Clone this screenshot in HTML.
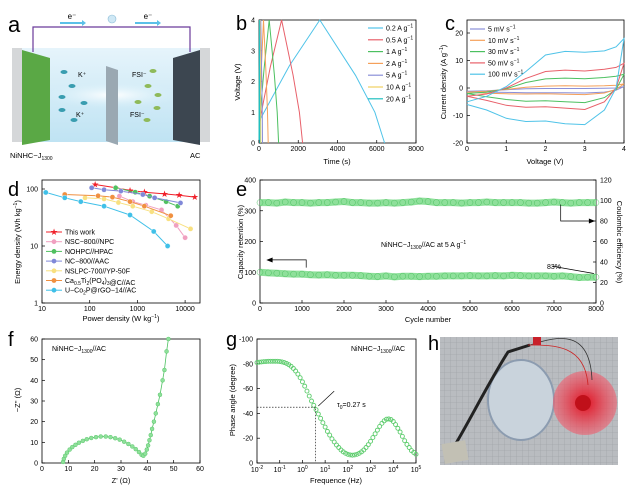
<!DOCTYPE html>
<html><head><meta charset="utf-8"><style>
html,body{margin:0;padding:0;background:#fff;}
svg{display:block;font-family:"Liberation Sans",sans-serif;}
</style></head><body>
<svg id="fig" width="627" height="489" viewBox="0 0 627 489" xmlns="http://www.w3.org/2000/svg">
<defs>
<linearGradient id="cellg" x1="0" y1="0" x2="0" y2="1"><stop offset="0" stop-color="#e6f4fb"/><stop offset="1" stop-color="#bfe3f3"/></linearGradient>
<radialGradient id="glow" cx="0.5" cy="0.5" r="0.5"><stop offset="0" stop-color="#ffffff"/><stop offset="1" stop-color="#d4eef9" stop-opacity="0"/></radialGradient>
<pattern id="grid" width="6" height="6" patternUnits="userSpaceOnUse"><rect width="6" height="6" fill="#b9bcc0"/><path d="M0 0H6M0 0V6" stroke="#9a9ea3" stroke-width="0.6"/></pattern>
<radialGradient id="fan" cx="0.5" cy="0.5" r="0.5"><stop offset="0" stop-color="#e01020"/><stop offset="1" stop-color="#f06070" stop-opacity="0.6"/></radialGradient>
</defs>
<!-- panel a -->
<g>
<rect x="12" y="48" width="198" height="94" fill="url(#cellg)"/>
<ellipse cx="112" cy="95" rx="70" ry="14" fill="url(#glow)"/>
<rect x="12" y="48" width="10" height="94" fill="#d5d7d9"/>
<rect x="200" y="48" width="10" height="94" fill="#d5d7d9"/>
<polygon points="22,50 50,58 50,140 22,145" fill="#5aa845"/>
<polygon points="173,58 200,50 200,145 173,140" fill="#3c4650"/>
<polygon points="106,66 118,70 118,145 106,141" fill="#9aa8b2"/>
<polyline points="33,52 33,27 190,27 190,52" fill="none" stroke="#6a3a9a" stroke-width="1.2"/>
<circle cx="112" cy="19" r="4" fill="#cfe8f5" stroke="#8bbbd6" stroke-width="0.6"/>
<rect x="60" y="22" width="22" height="2" fill="#5bc0e8"/><polygon points="82,20 86,23 82,26" fill="#5bc0e8"/>
<rect x="135" y="22" width="22" height="2" fill="#5bc0e8"/><polygon points="157,20 161,23 157,26" fill="#5bc0e8"/>
<text x="72" y="19" font-size="8" text-anchor="middle">e⁻</text>
<text x="148" y="19" font-size="8" text-anchor="middle">e⁻</text>
<text x="78" y="77" font-size="7">K⁺</text>
<text x="76" y="117" font-size="7">K⁺</text>
<text x="132" y="77" font-size="7">FSI⁻</text>
<text x="130" y="117" font-size="7">FSI⁻</text>
<g fill="#3a9db0"><ellipse cx="64" cy="72" rx="3.5" ry="2"/><ellipse cx="72" cy="86" rx="3.5" ry="2"/><ellipse cx="62" cy="97" rx="3.5" ry="2"/><ellipse cx="84" cy="103" rx="3.5" ry="2"/><ellipse cx="62" cy="110" rx="3.5" ry="2"/><ellipse cx="74" cy="120" rx="3.5" ry="2"/></g>
<g fill="#8fba5a"><ellipse cx="153" cy="71" rx="3.5" ry="2"/><ellipse cx="148" cy="86" rx="3.5" ry="2"/><ellipse cx="158" cy="95" rx="3.5" ry="2"/><ellipse cx="138" cy="102" rx="3.5" ry="2"/><ellipse cx="157" cy="108" rx="3.5" ry="2"/><ellipse cx="147" cy="120" rx="3.5" ry="2"/></g>
<text x="10" y="158" font-size="7.5">NiNHC−J<tspan font-size="5" dy="2">1300</tspan></text>
<text x="190" y="158" font-size="7.5">AC</text>
</g>
<!-- panel h photo -->
<g>
<rect x="440" y="337" width="178" height="128" fill="url(#grid)"/>
<ellipse cx="521" cy="400" rx="33" ry="40" fill="#c9d3dc" stroke="#8c9cb0" stroke-width="2"/>
<circle cx="585" cy="403" r="32" fill="url(#fan)"/>
<circle cx="583" cy="403" r="8" fill="#c0101a"/>
<path d="M455 445 C470 420 490 380 508 352 L530 345" fill="none" stroke="#222" stroke-width="3"/>
<path d="M530 345 C560 335 590 330 592 380" fill="none" stroke="#333" stroke-width="0.8"/>
<path d="M528 345 C555 345 585 345 588 385" fill="none" stroke="#c22" stroke-width="0.8"/>
<rect x="533" y="337" width="8" height="8" fill="#c8202a"/>
<rect x="443" y="442" width="24" height="20" fill="#c2c0b4" transform="rotate(-10 455 452)"/>
</g>
<g id="charts"></g>
</svg>
<script>
// ---------- data ----------
const gcdRates = ['0.2 A g⁻¹','0.5 A g⁻¹','1  A g⁻¹','2  A g⁻¹','5  A g⁻¹','10 A g⁻¹','20 A g⁻¹'];
const gcdColors = ['#4fc3e8','#e8606a','#4cc060','#f5a05a','#8a8fd8','#f0d060','#20c0c0'];
const gcdChargeEnd = [3100,1150,520,230,90,45,20];
const gcdDischargeEnd = [6400,2220,1000,470,180,90,40];
const gcdStartV = [0.7,0.6,0.5,0.4,0.3,0.2,0.1];

const cvLabels = ['5 mV s⁻¹','10 mV s⁻¹','30 mV s⁻¹','50 mV s⁻¹','100 mV s⁻¹'];
const cvColors = ['#8a8fd8','#f5a05a','#4cc060','#e8606a','#4fc3e8'];
const cvV = [0,0.5,1,1.5,2,2.5,3,3.5,3.8,4];
const cvUpper = [
 [-1.2,-1,-0.6,-0.3,-0.2,-0.2,-0.2,-0.1,0,0.5],
 [-1.5,-1.2,-0.5,0.3,0.7,0.8,0.7,0.8,1,1.5],
 [-2,-1.5,-0.3,2,3.3,3.6,3.4,3.8,4.3,5],
 [-3,-2.2,0,3.5,6,6.5,6.2,6.8,7.5,9],
 [-5,-3,0.5,6,12,13.3,13,13.5,15,18]];
const cvLower = [
 [-1.2,-1.5,-1.6,-1.7,-1.7,-1.7,-1.8,-1.5,-0.8,0.5],
 [-1.5,-1.9,-2.1,-2.2,-2.1,-2.3,-2.4,-1.8,-0.5,1.5],
 [-2,-3.2,-4.2,-4.8,-4.6,-5,-5.3,-3.5,-0.5,5],
 [-3,-4.5,-6.3,-7,-6.8,-7.3,-7.8,-5,0,9],
 [-6,-8,-11,-12.2,-12,-13,-13.3,-8,0,18]];

const ragNames = ['This work','NSC−800//NPC','NOHPC//HPAC','NC−800//AAC','NSLPC-700//YP-50F','Ca0.5Ti2(PO4)3@C//AC','U−Co2P@rGO−14//AC'];
const ragColors = ['#f0202a','#f0a0c0','#50c060','#8088d8','#f8e080','#f09040','#40c0e8'];
const ragPower = [
 [130,350,700,1400,3700,7500,16000],
 [420,800,1500,3200,6500,10000],
 [350,900,1800,4000,7000],
 [110,200,450,1300,2300,8000],
 [80,200,400,800,2000,4500,13000],
 [30,150,300,700,1400,5000],
 [12,30,65,200,700,2200,4300]];
const ragEnergy = [
 [120,105,95,88,82,78,72],
 [75,60,52,43,23,14],
 [105,88,75,60,50],
 [105,97,92,80,70,57],
 [70,67,58,50,40,30,20],
 [80,76,72,60,50,34],
 [87,70,60,50,35,18,10]];

const cycNum = [0,200,400,600,800,1000,1200,1400,1600,1800,2000,2200,2400,2600,2800,3000,3200,3400,3600,3800,4000,4200,4400,4600,4800,5000,5200,5400,5600,5800,6000,6200,6400,6600,6800,7000,7200,7400,7600,7800,8000];
const capRet = [100,98,97,95,94,94,92,91,92,90,90,90,89,87,86,88,85,87,87,86,87,87,88,88,88,89,88,88,89,88,90,89,88,88,88,87,88,86,83,84,84];
const coulEff = [98,98,97.5,98.5,98,98,97.5,98,98,98.5,99,98,98,97.5,97.5,98,97.5,98,98.5,99.5,99,98,98,98,97.5,98,98,98.5,98,98,98,98,97.5,97.5,98,98.5,98,97.5,98,98,98];

const nyqRe = [8,8.3,8.8,9.5,10.5,11.5,12.7,14,15.5,17,18.7,20.5,22.3,24.2,26,27.8,29.5,31.2,32.8,34.3,35.6,36.8,37.8,38.5,39.2,39.8,40.3,40.8,41.3,41.8,42.5,43.2,44,44.8,45.8,46.5,47.3,48];
const nyqIm = [0.5,2,3.5,5,6.5,7.7,8.8,9.8,10.7,11.5,12.1,12.5,12.8,12.8,12.5,12,11.3,10.3,9.2,8,6.7,5.3,4,3.5,4.5,6.5,8.5,11,13.5,16.5,20,24,28.5,33,40,45,54,60];

const bodeLogF = [-2,-1.9,-1.8,-1.7,-1.6,-1.5,-1.4,-1.3,-1.2,-1.1,-1,-0.9,-0.8,-0.7,-0.6,-0.5,-0.4,-0.3,-0.2,-0.1,0,0.1,0.2,0.3,0.4,0.5,0.6,0.7,0.8,0.9,1,1.1,1.2,1.3,1.4,1.5,1.6,1.7,1.8,1.9,2,2.1,2.2,2.3,2.4,2.5,2.6,2.7,2.8,2.9,3,3.1,3.2,3.3,3.4,3.5,3.6,3.7,3.8,3.9,4,4.1,4.2,4.3,4.4,4.5,4.6,4.7,4.8,4.9,5];
const bodePhase = [81,81.3,81.5,81.7,81.8,82,82,82,82,82,81.8,81.5,81,80.3,79.3,78,76.3,74.2,71.7,68.8,65.5,62,58,54,50,46.5,43,39.5,36,32.5,29,25.5,22.5,19.5,17,14.5,12.5,10.5,9,7.8,7,6.5,6.3,6.5,7,7.8,9,10.5,12.5,14.8,17.5,20.5,23.5,26.5,29.5,32,34,35.3,35.5,35,33.5,31,28,25,21.5,18,15,12.5,10,8.5,7];

const bTicksX=[0,2000,4000,6000,8000], bTicksY=[0,1,2,3,4];
const cTicksX=[0,1,2,3,4], cTicksY=[-20,-10,0,10,20];
const dTicksX=[10,100,1000,10000], dTicksY=[1,10,100];
const eTicksX=[0,1000,2000,3000,4000,5000,6000,7000,8000], eTicksY=[0,100,200,300,400], eTicksY2=[0,20,40,60,80,100,120];
const fTicks=[0,10,20,30,40,50,60];
const gTicksX=[-2,-1,0,1,2,3,4,5], gTicksY=[0,20,40,60,80,100];

// ---------- helpers ----------
const NS='http://www.w3.org/2000/svg';
const root=document.getElementById('charts');
function mk(tag,attrs,name,parent){
  const el=document.createElementNS(NS,tag);
  for(const k in attrs) el.setAttribute(k,attrs[k]);
  
  
  (parent||root).appendChild(el); return el;
}
function txt(x,y,s,size,anchor,name,rot,color){
  const a={x:x,y:y,'font-size':size,'text-anchor':anchor||'middle',fill:color||'#000'};
  if(rot) a.transform='rotate('+rot+' '+x+' '+y+')';
  const t=mk('text',a,name); t.textContent=s; return t;
}
function htxt(x,y,html,size,anchor,name,rot){
  const t=txt(x,y,'',size,anchor,name,rot); t.innerHTML=html; return t;
}
function frame(x0,y0,x1,y1,name){ mk('rect',{x:x0,y:y0,width:x1-x0,height:y1-y0,fill:'none',stroke:'#000','stroke-width':0.8},name); }
function tick(x1,y1,x2,y2){ mk('line',{x1:x1,y1:y1,x2:x2,y2:y2,stroke:'#000','stroke-width':0.7},'tick-mark'); }
function poly(pts,color,w,name,dash){
  const a={points:pts.map(p=>p[0].toFixed(1)+','+p[1].toFixed(1)).join(' '),fill:'none',stroke:color,'stroke-width':w||1};
  if(dash) a['stroke-dasharray']=dash;
  return mk('polyline',a,name);
}
const FS=7;

// ---------- panel b ----------
const bx=t=>259+t/8000*157, by=v=>143-v/4*123;
frame(259,20,416,143,'gcd-plot-frame');
bTicksX.forEach(t=>{tick(bx(t),143,bx(t),140);txt(bx(t),151,t,FS,'middle','x-tick-label');});
bTicksY.forEach(v=>{tick(259,by(v),262,by(v));txt(255,by(v)+2.5,v,FS,'end','y-tick-label');});
gcdRates.forEach((r,i)=>{
  const c=gcdChargeEnd[i], d=gcdDischargeEnd[i], v0=gcdStartV[i];
  const pts=[[bx(0),by(v0)],[bx(c*0.5),by(v0+(4-v0)*0.55)],[bx(c),by(4)],[bx(c+(d-c)*0.55),by(2.2)],[bx(c+(d-c)*0.85),by(1.0)],[bx(d),by(0)]];
  poly(pts,gcdColors[i],1,'gcd-curve-'+i);
  const ly=28+i*11.8;
  mk('line',{x1:368,y1:ly,x2:383,y2:ly,stroke:gcdColors[i],'stroke-width':1.2},'legend-line');
  htxt(386,ly+2.5,r.replace('⁻¹','<tspan font-size="5" dy="-3">−1</tspan>'),FS,'start','legend-entry');
});
txt(240,82,'Voltage (V)',7.5,'middle','y-axis-title',-90);
txt(337,164,'Time (s)',7.5,'middle','x-axis-title');
txt(236,30,'b',20,'start','panel-label-b');

// ---------- panel c ----------
const cx=v=>467+v/4*157, cy=j=>88-j*2.75;
frame(467,20,624,143,'cv-plot-frame');
cTicksX.forEach(v=>{tick(cx(v),143,cx(v),140);txt(cx(v),151,v,FS,'middle','x-tick-label');});
cTicksY.forEach(j=>{tick(467,cy(j),470,cy(j));txt(463,cy(j)+2.5,j,FS,'end','y-tick-label');});
cvLabels.forEach((l,i)=>{
  const pts=cvV.map((v,k)=>[cx(v),cy(cvUpper[i][k])]);
  const low=cvV.map((v,k)=>[cx(v),cy(cvLower[i][k])]).reverse();
  poly(pts.concat(low),cvColors[i],1,'cv-loop-'+i);
  const ly=29+i*11.3;
  mk('line',{x1:470,y1:ly,x2:485,y2:ly,stroke:cvColors[i],'stroke-width':1.2},'legend-line');
  htxt(488,ly+2.5,l.replace('⁻¹','<tspan font-size="5" dy="-3">−1</tspan>'),FS,'start','legend-entry');
});
htxt(446,82,'Current density (A g<tspan font-size="5" dy="-3">−1</tspan><tspan dy="3">)</tspan>',7.5,'middle','y-axis-title',-90);
txt(545,164,'Voltage (V)',7.5,'middle','x-axis-title');
txt(445,30,'c',20,'start','panel-label-c');

// ---------- panel d ----------
const dx=p=>42+(Math.log10(p)-1)*47.7, dy=e=>303-Math.log10(e)*57;
frame(42,180,200,303,'ragone-plot-frame');
dTicksX.forEach(p=>{tick(dx(p),303,dx(p),300);txt(dx(p),311,p,FS,'middle','x-tick-label');});
dTicksY.forEach(e=>{tick(42,dy(e),45,dy(e));txt(38,dy(e)+2.5,e,FS,'end','y-tick-label');});
ragNames.forEach((n,i)=>{
  const pts=ragPower[i].map((p,k)=>[dx(p),dy(ragEnergy[i][k])]);
  poly(pts,ragColors[i],1,'ragone-series-'+i);
  pts.forEach(p=>{
    if(i===0) txt(p[0],p[1]+3,'★',9,'middle','ragone-point',0,ragColors[i]);
    else mk('circle',{cx:p[0],cy:p[1],r:2.6,fill:ragColors[i],stroke:'#fff','stroke-width':0.4},'ragone-point');
  });
  const ly=232+i*9.7;
  mk('line',{x1:46,y1:ly,x2:62,y2:ly,stroke:ragColors[i],'stroke-width':1},'legend-line');
  if(i===0) txt(54,ly+3,'★',9,'middle','legend-marker',0,ragColors[i]);
  else mk('circle',{cx:54,cy:ly,r:2.4,fill:ragColors[i]},'legend-marker');
  htxt(65,ly+2.5,n.replace('Ca0.5Ti2(PO4)3','Ca<tspan font-size="5" dy="2">0.5</tspan><tspan dy="-2">Ti</tspan><tspan font-size="5" dy="2">2</tspan><tspan dy="-2">(PO</tspan><tspan font-size="5" dy="2">4</tspan><tspan dy="-2">)</tspan><tspan font-size="5" dy="2">3</tspan><tspan dy="-2"></tspan>').replace('Co2P','Co<tspan font-size="5" dy="2">2</tspan><tspan dy="-2">P</tspan>'),FS,'start','legend-entry');
});
htxt(20,242,'Energy density (Wh kg<tspan font-size="5" dy="-3">−1</tspan><tspan dy="3">)</tspan>',7.5,'middle','y-axis-title',-90);
htxt(121,321,'Power density (W kg<tspan font-size="5" dy="-3">−1</tspan><tspan dy="3">)</tspan>',7.5,'middle','x-axis-title');
txt(8,196,'d',20,'start','panel-label-d');

// ---------- panel e ----------
const ex=n=>260+n/8000*336, ey=c=>303-c/400*123, ey2=c=>303-c/120*123;
frame(260,180,596,303,'cycling-plot-frame');
eTicksX.forEach(n=>{tick(ex(n),303,ex(n),300);txt(ex(n),311,n,FS,'middle','x-tick-label');});
eTicksY.forEach(c=>{tick(260,ey(c),263,ey(c));txt(256,ey(c)+2.5,c,FS,'end','y-tick-label');});
eTicksY2.forEach(c=>{tick(596,ey2(c),593,ey2(c));txt(600,ey2(c)+2.5,c,FS,'start','y2-tick-label');});
poly(cycNum.map((n,k)=>[ex(n),ey(capRet[k])]),'#8ee09a',7,'capacity-retention-band');
poly(cycNum.map((n,k)=>[ex(n),ey2(coulEff[k])]),'#8ee09a',7,'coulombic-efficiency-band');
cycNum.forEach((n,k)=>{
  mk('circle',{cx:ex(n),cy:ey(capRet[k]),r:3,fill:'none',stroke:'#4cc060','stroke-width':0.5},'capacity-point');
  mk('circle',{cx:ex(n),cy:ey2(coulEff[k]),r:3,fill:'none',stroke:'#4cc060','stroke-width':0.5},'efficiency-point');
});
poly([[ex(1100),ey(115)],[ex(1100),ey(140)],[ex(220),ey(140)]],'#000',0.7,'left-axis-arrow');
mk('polygon',{points:`${ex(150)},${ey(140)} ${ex(300)},${ey(140)-2.5} ${ex(300)},${ey(140)+2.5}`,fill:'#000'},'arrow-head');
poly([[ex(7160),ey2(96)],[ex(7160),ey2(80)],[ex(7900),ey2(80)]],'#000',0.7,'right-axis-arrow');
mk('polygon',{points:`${ex(7980)},${ey2(80)} ${ex(7830)},${ey2(80)-2.5} ${ex(7830)},${ey2(80)+2.5}`,fill:'#000'},'arrow-head');
htxt(381,247,'NiNHC−J<tspan font-size="5" dy="2">1300</tspan><tspan dy="-2">//AC at 5 A g</tspan><tspan font-size="5" dy="-3">−1</tspan>',7,'start','test-condition-annotation');
txt(547,269,'83%',7,'start','retention-annotation');
poly([[ex(6950),ey(120)],[ex(7950),ey(96)]],'#000',0.7,'retention-arrow');
htxt(243,242,'Capacity retention (%)',7.5,'middle','y-axis-title',-90);
txt(617,242,'Coulombic efficiency (%)',7.5,'middle','y2-axis-title',90);
txt(428,322,'Cycle number',7.5,'middle','x-axis-title');
txt(236,196,'e',20,'start','panel-label-e');

// ---------- panel f ----------
const fx=z=>42+z/60*158, fy=z=>463-z/60*124;
frame(42,339,200,463,'nyquist-plot-frame');
fTicks.forEach(t=>{tick(fx(t),463,fx(t),460);txt(fx(t),471,t,FS,'middle','x-tick-label');tick(42,fy(t),45,fy(t));txt(38,fy(t)+2.5,t,FS,'end','y-tick-label');});
poly(nyqRe.map((r,k)=>[fx(r),fy(nyqIm[k])]),'#4cc060',0.8,'nyquist-line');
nyqRe.forEach((r,k)=>mk('circle',{cx:fx(r),cy:fy(nyqIm[k]),r:2,fill:'#8ee09a',stroke:'#4cc060','stroke-width':0.4},'nyquist-point'));
htxt(52,351,'NiNHC−J<tspan font-size="5" dy="2">1300</tspan><tspan dy="-2">//AC</tspan>',7,'start','nyquist-annotation');
txt(20,400,"−Z'' (Ω)",7.5,'middle','y-axis-title',-90);
txt(121,483,"Z' (Ω)",7.5,'middle','x-axis-title');
txt(8,346,'f',20,'start','panel-label-f');

// ---------- panel g ----------
const gx=l=>257+(l+2)/7*159, gy=a=>463-a/100*124;
frame(257,339,416,463,'bode-plot-frame');
gTicksX.forEach(l=>{tick(gx(l),463,gx(l),460);htxt(gx(l),472,'10<tspan font-size="5" dy="-3">'+l+'</tspan>',FS,'middle','x-tick-label');});
gTicksY.forEach(a=>{tick(257,gy(a),260,gy(a));txt(253,gy(a)+2.5,a===0?'0':'-'+a,FS,'end','y-tick-label');});
bodeLogF.forEach((l,k)=>mk('circle',{cx:gx(l),cy:gy(bodePhase[k]),r:2,fill:'none',stroke:'#5ccc6c','stroke-width':0.9},'bode-point'));
poly([[gx(-2),gy(45)],[gx(0.57),gy(45)],[gx(0.57),gy(0)]],'#000',0.6,'tau-guide-line','1.5,1.5');
poly([[gx(1.4),gy(58)],[gx(0.7),gy(46)]],'#000',0.6,'tau-arrow');
htxt(337,407,'τ<tspan font-size="5" dy="2">0</tspan><tspan dy="-2">=0.27 s</tspan>',7,'start','tau-annotation');
htxt(351,351,'NiNHC−J<tspan font-size="5" dy="2">1300</tspan><tspan dy="-2">//AC</tspan>',7,'start','bode-annotation');
txt(235,400,'Phase angle (degree)',7.5,'middle','y-axis-title',-90);
txt(336,483,'Frequence (Hz)',7.5,'middle','x-axis-title');
txt(226,346,'g',20,'start','panel-label-g');
txt(428,350,'h',20,'start','panel-label-h');
txt(8,32,'a',22,'start','panel-label-a');
</script>
</body></html>
